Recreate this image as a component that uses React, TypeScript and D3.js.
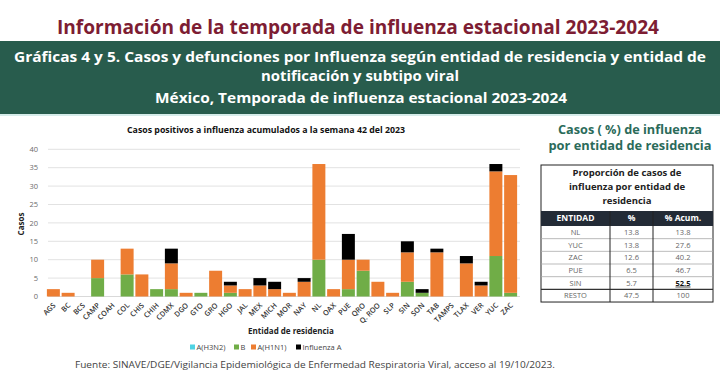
import React from "react";
import * as d3 from "d3";

const categories = ["AGS","BC","BCS","CAMP","COAH","COL","CHIS","CHIH","CDMX","DGO","GTO","GRO","HGO","JAL","MEX","MICH","MOR","NAY","NL","OAX","PUE","QRO","Q. ROO","SLP","SIN","SON","TAB","TAMPS","TLAX","VER","YUC","ZAC"];
const h3n2 = [0,0,0,0,0,0,0,0,0,0,0,0,0,0,0,0,0,0,0,0,0,0,0,0,0,0,0,0,0,0,0,0];
const bVals = [0,0,0,5,0,6,0,2,2,0,1,0,1,0,0,0,0,0,10,0,2,7,0,0,4,1,0,0,0,0,11,1];
const h1n1 = [2,1,0,5,0,7,6,0,7,1,0,7,2,2,3,2,1,4,26,2,8,3,4,1,8,0,12,0,9,3,23,32];
const fluA = [0,0,0,0,0,0,0,0,4,0,0,0,1,0,2,2,0,1,0,0,7,0,0,0,3,1,1,0,2,1,2,0];
const seriesNames = ["A(H3N2)", "B", "A(H1N1)", "Influenza A"];
const yTicks = [0,5,10,15,20,25,30,35,40];

const tableEnt = ["NL","YUC","ZAC","PUE","SIN","RESTO"];
const tablePct = ["13.8","13.8","12.6","6.5","5.7","47.5"];
const tableAcum = ["13.8","27.6","40.2","46.7","52.5","100"];

const colors = ["#4fd3e3", "#70ad47", "#ed7d31", "#000000"];
const FONT = "'Open Sans', 'Noto Sans', sans-serif";

export default function App() {
  const rows = categories.map((c, i) => ({ cat: c, s0: h3n2[i], s1: bVals[i], s2: h1n1[i], s3: fluA[i] }));
  const stack = d3.stack<any>().keys(["s0", "s1", "s2", "s3"]);
  const stacked = stack(rows);

  const x = d3.scaleBand().domain(categories).range([46, 518]).paddingInner(0.12).paddingOuter(0.06);
  const y = d3.scaleLinear().domain([0, 40]).range([296.5, 149.3]);

  const tX0 = 541, tX1 = 713, c1 = 610, c2 = 653;
  const hdrY0 = 211, hdrY1 = 226, rowH = 12.67;

  const legendX = [190, 234, 251, 296];

  return (
    <svg width={720} height={380} style={{ position: "absolute", left: 0, top: 0, background: "#fff" }} fontFamily={FONT}>
      <rect x={0} y={0} width={720} height={380} fill="#fff" />
      {/* main title */}
      <text x={358} y={34} textAnchor="middle" fontSize={19.5} fontWeight={700} fill="#7d1d33" textLength={602} lengthAdjust="spacingAndGlyphs">
        Información de la temporada de influenza estacional 2023-2024
      </text>
      {/* banner */}
      <rect x={0} y={41} width={720} height={73} fill="#285c4d" />
      <line x1={0} x2={720} y1={115} y2={115} stroke="#d6ecea" strokeWidth={2} />
      <text x={360} y={62} textAnchor="middle" fontSize={13.5} fontWeight={700} fill="#fff" textLength={692} lengthAdjust="spacingAndGlyphs">
        Gráficas 4 y 5. Casos y defunciones  por Influenza según entidad de residencia y entidad de
      </text>
      <text x={360} y={80.5} textAnchor="middle" fontSize={13.5} fontWeight={700} fill="#fff" textLength={198} lengthAdjust="spacingAndGlyphs">
        notificación y subtipo viral
      </text>
      <text x={361} y={103} textAnchor="middle" fontSize={14.5} fontWeight={700} fill="#fff" textLength={412} lengthAdjust="spacingAndGlyphs">
        México, Temporada de influenza estacional 2023-2024
      </text>

      {/* chart title */}
      <text x={266} y={133} textAnchor="middle" fontSize={8.5} fontWeight={700} fill="#111" textLength={278} lengthAdjust="spacingAndGlyphs">
        Casos positivos a influenza acumulados a la semana 42 del 2023
      </text>

      {/* gridlines + y ticks */}
      {yTicks.map((t) => (
        <g key={t}>
          {t > 0 && <line x1={48} x2={520} y1={y(t)} y2={y(t)} stroke="#e2e2e2" strokeWidth={1} />}
          <text x={38} y={y(t)} dy="0.35em" textAnchor="end" fontSize={7.5} fill="#6b6b6b">{t}</text>
        </g>
      ))}
      <line x1={48} x2={520} y1={y(0)} y2={y(0)} stroke="#d9d9d9" strokeWidth={1} />
      <text transform={`translate(24,224) rotate(-90)`} textAnchor="middle" fontSize={8} fontWeight={700} fill="#222">Casos</text>

      {/* bars */}
      {stacked.map((ser, si) => (
        <g key={si} fill={colors[si]}>
          {ser.map((d: any, i: number) => {
            const h = y(d[0]) - y(d[1]);
            if (h <= 0) return null;
            return <rect key={i} x={x(categories[i])} y={y(d[1])} width={x.bandwidth()} height={h} />;
          })}
        </g>
      ))}

      {/* x labels */}
      {categories.map((c) => (
        <text key={c} transform={`translate(${(x(c) as number) + x.bandwidth() / 2 + 1},${304}) rotate(-45)`} textAnchor="end" fontSize={7.3} fontWeight={600} fill="#333" dy="0.35em">{c}</text>
      ))}
      <text x={291} y={334} textAnchor="middle" fontSize={8} fontWeight={700} fill="#222">Entidad de residencia</text>

      {/* legend */}
      {seriesNames.map((n, i) => (
        <g key={n} transform={`translate(${legendX[i]},347)`}>
          <rect x={0} y={-2.5} width={5} height={5} fill={colors[i]} />
          <text x={6.5} y={0} dy="0.35em" fontSize={7.5} fill="#444">{n}</text>
        </g>
      ))}

      {/* footer */}
      <text x={75} y={368} fontSize={9.5} fill="#444" textLength={480} lengthAdjust="spacingAndGlyphs">
        Fuente: SINAVE/DGE/Vigilancia Epidemiológica de Enfermedad Respiratoria Viral, acceso al 19/10/2023.
      </text>

      {/* right panel title */}
      <text x={630} y={134} textAnchor="middle" fontSize={12} fontWeight={700} fill="#2b6b5a" textLength={144} lengthAdjust="spacingAndGlyphs">Casos ( %) de influenza</text>
      <text x={630} y={150} textAnchor="middle" fontSize={12} fontWeight={700} fill="#2b6b5a" textLength={163} lengthAdjust="spacingAndGlyphs">por entidad de residencia</text>

      {/* table */}
      <rect x={tX0} y={165} width={tX1 - tX0} height={hdrY1 + rowH * 6 - 165} fill="#fff" stroke="#222" strokeWidth={1} />
      <text x={(tX0 + tX1) / 2} y={176} textAnchor="middle" fontSize={9.5} fontWeight={700} fill="#222">Proporción de casos de</text>
      <text x={(tX0 + tX1) / 2} y={190} textAnchor="middle" fontSize={9.5} fontWeight={700} fill="#222">influenza por entidad de</text>
      <text x={(tX0 + tX1) / 2} y={204} textAnchor="middle" fontSize={9.5} fontWeight={700} fill="#222">residencia</text>
      <rect x={tX0} y={hdrY0} width={tX1 - tX0} height={hdrY1 - hdrY0} fill="#232b36" />
      <text x={(tX0 + c1) / 2} y={(hdrY0 + hdrY1) / 2} dy="0.35em" textAnchor="middle" fontSize={8.5} fontWeight={700} fill="#fff">ENTIDAD</text>
      <text x={(c1 + c2) / 2} y={(hdrY0 + hdrY1) / 2} dy="0.35em" textAnchor="middle" fontSize={8.5} fontWeight={700} fill="#fff">%</text>
      <text x={(c2 + tX1) / 2} y={(hdrY0 + hdrY1) / 2} dy="0.35em" textAnchor="middle" fontSize={8.5} fontWeight={700} fill="#fff">% Acum.</text>
      {tableEnt.map((e, i) => {
        const ry = hdrY1 + i * rowH;
        const isSin = i === 4;
        return (
          <g key={e}>
            {i > 0 && <line x1={tX0} x2={tX1} y1={ry} y2={ry} stroke={i === 5 ? "#333" : "#aaa"} strokeWidth={i === 5 ? 1.4 : 0.8} />}
            <text x={(tX0 + c1) / 2} y={ry + rowH / 2} dy="0.35em" textAnchor="middle" fontSize={7.5} fill="#666">{e}</text>
            <text x={(c1 + c2) / 2} y={ry + rowH / 2} dy="0.35em" textAnchor="middle" fontSize={7.5} fill="#666">{tablePct[i]}</text>
            <text x={(c2 + tX1) / 2} y={ry + rowH / 2} dy="0.35em" textAnchor="middle" fontSize={7.5} fill={isSin ? "#111" : "#666"} fontWeight={isSin ? 700 : 400} textDecoration={isSin ? "underline" : "none"}>{tableAcum[i]}</text>
          </g>
        );
      })}
      <line x1={c1} x2={c1} y1={hdrY0} y2={hdrY1 + rowH * 6} stroke="#222" strokeWidth={1} />
      <line x1={c2} x2={c2} y1={hdrY0} y2={hdrY1 + rowH * 6} stroke="#222" strokeWidth={1} />
    </svg>
  );
}
